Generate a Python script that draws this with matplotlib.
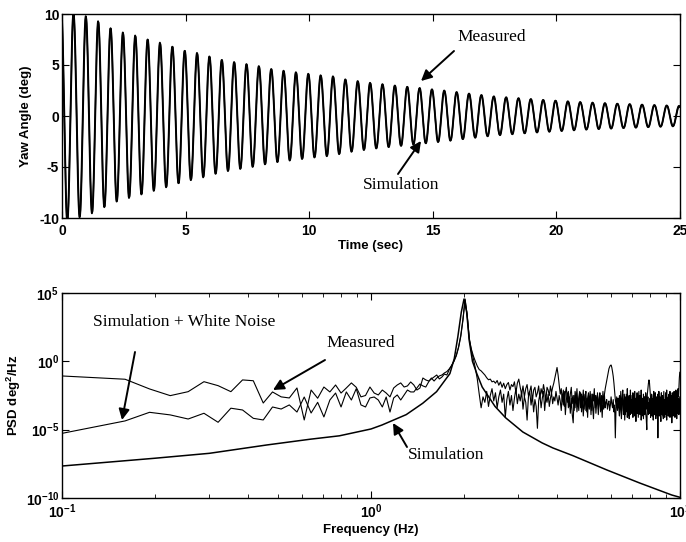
"""Yaw-angle free decay (time domain) and its PSD: measured vs simulation."""

import numpy as np
import matplotlib

matplotlib.use("Agg")
import matplotlib.pyplot as plt

INK = "black"
SERIF = ["Liberation Serif", "DejaVu Serif"]
plt.rcParams["font.family"] = ["Liberation Sans", "DejaVu Sans"]
plt.rcParams["axes.unicode_minus"] = False
plt.rcParams["mathtext.fontset"] = "custom"
plt.rcParams["mathtext.rm"] = "Liberation Sans:bold"
plt.rcParams["mathtext.it"] = "Liberation Sans:bold"
plt.rcParams["mathtext.bf"] = "Liberation Sans:bold"

# ---- top panel: decaying yaw oscillation -----------------------------------
YAW_FREQ_HZ = 2.0        # oscillation frequency
YAW_PEAK_T0 = 0.46       # time of the first positive peak (s)
MEAS_LAG_S = 0.012       # measured trace sits a hair behind the simulation
ENV_T = [0.0, 0.46, 0.96, 1.46, 1.96, 2.46, 2.96, 3.46, 3.96, 4.46, 4.96,
         5.46, 5.96, 6.46, 6.96, 7.46, 7.96, 8.46, 8.96, 9.46, 9.96, 10.46,
         10.96, 11.46, 12.5, 14.5, 15.5, 17.4, 19.3, 21.2, 23.1, 25.0]
ENV_SIM = [10.6, 10.1, 9.8, 9.3, 8.6, 8.2, 7.9, 7.5, 7.2, 6.8, 6.4,
           6.2, 5.85, 5.5, 5.3, 5.1, 4.9, 4.6, 4.45, 4.3, 4.15, 4.0,
           3.9, 3.6, 3.25, 2.7, 2.5, 1.9, 1.6, 1.35, 1.15, 1.0]
ENV_MEAS = [10.5, 10.0, 9.7, 9.2, 8.6, 8.1, 7.8, 7.5, 7.1, 6.8, 6.4,
            6.1, 5.8, 5.5, 5.25, 5.05, 4.85, 4.6, 4.4, 4.25, 4.1, 3.95,
            3.85, 3.55, 3.2, 2.75, 2.45, 1.95, 1.6, 1.3, 1.15, 0.95]
TIME_TICKS = [0, 5, 10, 15, 20, 25]
YAW_TICKS = [-10, -5, 0, 5, 10]

# ---- bottom panel: PSD (log10 of deg^2/Hz) ---------------------------------
DF_HZ = 0.032            # spectral line spacing
FIRST_BIN = 3            # first line drawn (0.096 Hz, just left of the axis)
MEAS_LOG_PSD = [
    -1.05, -1.2, -1.31, -2.02, -2.51, -2.22, -1.49, -1.78, -2.22, -1.36,
    -1.42, -3.05, -2.24, -2.6, -2.68, -1.95, -4.29, -2.1, -2.7, -1.88,
    -2.24, -1.73, -2.32, -1.95, -1.58, -1.9, -2.6, -2.5, -1.88, -2.32,
    -2.46, -2.1, -2.32, -2.6, -1.95, -1.73, -1.58, -1.88, -1.8, -1.51,
    -1.73, -2.1, -1.95, -1.22, -1.36, -1.44, -1.29, -1.15, -1.0, -1.29,
    -1.15, -0.93, -1.0, -0.6, -0.3, 0.0, 0.4, 1.0, 1.8, 3.0,
    4.56, 3.3, 1.6, 0.9, 0.4, 0.0,
    -0.35, -0.6, -0.7, -0.85, -1.0, -1.2, -1.35, -1.3, -1.5, -1.45,
    -1.6, -1.4, -1.75, -1.5, -1.9, -1.6, -2.0, -1.7, -1.55, -2.1,
    -1.7, -1.85, -1.5, -2.3, -1.6, -1.3, -1.9, -2.4, -1.8, -2.6,
    -2.0, -1.7, -2.5, -2.2, -1.8, -2.9, -2.1, -1.9, -2.6, -2.3,
    -1.8, -2.7, -2.0, -2.4, -1.7, -2.2, -2.9, -1.9, -2.1, -2.5,
    -1.8, -2.3, -1.9, -1.6, -1.2, -0.8, -0.45, -1.0, -1.7, -2.4,
    -2.0, -2.9, -2.1, -3.3, -2.3, -1.9, -3.0, -2.2, -3.3, -2.4,
    -1.9, -3.1, -2.5, -3.6, -2.2, -3.0, -2.0, -3.3, -2.6, -2.2,
    -3.4, -2.4, -3.1, -2.1, -3.5, -2.6, -2.2, -3.7, -2.7, -2.3,
    -3.2, -2.2, -3.1, -3.6, -2.4, -2.9, -2.0, -3.4, -2.5, -3.2,
    -2.3, -3.5, -2.7, -2.3, -3.7, -2.5, -3.1, -2.2, -3.2, -2.4,
    -2.0, -1.7, -1.4, -1.1, -0.8, -0.55, -0.4, -0.3, -0.27, -0.45,
    -0.75, -1.1, -1.6, -2.2, -2.8, -3.2, -2.6, -3.0, -2.7, -3.3,
    -2.5, -3.4, -2.2, -3.8, -2.7, -2.1, -3.6, -3.0, -2.4, -3.9,
    -2.6, -3.5, -2.0, -3.1, -4.0, -2.5, -3.3, -2.1, -3.7, -2.8,
    -3.8, -2.3, -3.0, -3.5, -2.2, -3.9, -2.7, -3.2, -2.3, -3.6,
    -2.9, -2.2, -3.8, -2.5, -3.3, -2.1, -3.5, -2.8, -4.0, -2.4,
    -3.3, -2.6, -3.7, -2.3, -2.8, -3.5, -2.4, -2.0, -1.6, -1.36,
    -1.6, -2.1, -2.7, -3.4, -2.4, -3.8, -2.7, -3.4, -2.2, -3.9,
    -2.8, -2.3, -3.6, -2.6, -4.0, -3.0, -2.4, -3.7, -2.2, -3.4,
    -2.6, -3.9, -2.9, -2.3, -3.6, -2.5, -4.0, -3.0, -2.2, -3.5,
    -2.8, -3.8, -2.3, -3.2, -2.1, -3.6, -2.7, -4.0, -2.9, -2.4,
    -3.6, -2.2, -3.2, -3.9, -2.5, -3.5, -2.3, -3.8, -2.7, -3.3,
    -2.2, -3.6, -2.6, -3.1, -2.1, -3.5, -2.5, -2.2, -3.0, -2.0,
    -2.6, -1.8, -1.2, -0.8,
]
SIMNOISE_LOG_PSD = [
    -5.35, -4.79, -4.36, -3.73, -3.92, -4.22, -3.80, -4.46, -3.43, -3.56,
    -4.17, -4.29, -3.34, -3.49, -3.19, -3.71, -2.61, -3.78, -3.0, -4.07,
    -2.83, -2.32, -3.34, -2.24, -2.83, -2.0, -3.19, -3.34, -2.68, -2.61,
    -2.83, -3.34, -2.61, -3.71, -2.68, -2.46, -2.83, -2.46, -2.1, -2.24,
    -2.24, -1.95, -1.66, -1.8, -1.88, -1.51, -1.22, -1.44, -1.22, -1.07,
    -1.0, -0.85, -0.75, -0.55, -0.3, 0.05, 0.45, 1.05, 1.9, 3.1,
    4.5, 3.4, 1.7, 0.8, 0.2, -0.5,
    -1.3, -2.4, -3.4, -2.6, -3.0, -2.2, -3.3, -2.5, -2.0, -2.9,
    -2.3, -3.4, -2.6, -2.1, -3.0, -2.4, -4.1, -2.8, -2.2, -3.2,
    -2.5, -3.6, -2.7, -2.0, -3.1, -2.4, -2.9, -2.2, -3.5, -2.6,
    -3.0, -4.3, -2.6, -2.2, -3.2, -2.5, -3.7, -2.8, -3.3, -4.9,
    -2.9, -2.4, -3.4, -2.7, -2.2, -3.6, -2.6, -3.0, -2.4, -3.3,
    -2.7, -2.3, -3.1, -2.6, -2.9, -2.2, -2.7, -3.2, -2.5, -2.9,
    -3.6, -2.4, -3.2, -2.2, -3.9, -2.8, -2.3, -3.4, -2.6, -3.8,
    -2.7, -3.9, -4.5, -2.5, -3.4, -2.3, -3.7, -2.8, -3.6, -2.4,
    -2.3, -3.7, -2.6, -4.0, -3.0, -2.4, -3.6, -2.7, -4.1, -2.5,
    -3.5, -2.6, -3.9, -2.4, -3.3, -4.2, -2.7, -2.5, -3.8, -3.0,
    -2.6, -3.9, -3.2, -2.4, -3.6, -3.0, -4.1, -2.7, -3.5, -2.5,
    -3.4, -3.0, -2.8, -3.5, -3.1, -2.9, -3.6, -3.2, -2.6, -3.1,
    -3.4, -2.8, -3.7, -3.2, -5.6, -3.4, -2.9, -3.6, -3.0, -3.4,
    -4.0, -2.6, -3.5, -4.2, -2.9, -2.4, -3.9, -3.1, -4.3, -2.7,
    -3.7, -2.4, -4.1, -3.0, -2.6, -4.2, -3.1, -3.9, -2.5, -3.8,
    -2.8, -4.1, -3.2, -2.5, -4.0, -3.0, -4.4, -2.7, -3.8, -3.0,
    -4.1, -3.1, -2.5, -3.9, -2.8, -4.3, -3.3, -2.7, -3.5, -4.2,
    -3.0, -3.9, -2.6, -3.8, -4.2, -5.0, -3.1, -2.6, -3.9, -3.0,
    -3.8, -2.7, -4.1, -3.1, -2.5, -4.0, -3.0, -4.3, -3.2, -2.8,
    -3.9, -2.9, -4.2, -2.7, -3.8, -3.1, -5.6, -3.3, -2.7, -4.0,
    -3.0, -3.8, -4.4, -2.8, -3.9, -2.7, -3.6, -4.2, -2.9, -3.8,
    -4.1, -2.8, -3.9, -3.1, -4.3, -2.9, -3.7, -2.6, -4.0, -3.2,
    -2.8, -4.1, -3.0, -3.9, -2.7, -4.5, -3.2, -2.8, -4.0, -3.0,
    -3.8, -2.7, -4.1, -2.9, -3.9, -3.0, -4.2, -2.8, -3.8, -2.9,
    -2.7, -3.9, -3.1, -2.6,
]
SIM_FREQ = [0.1, 0.2, 0.3, 0.46, 0.635, 0.79, 1.0, 1.085, 1.3, 1.47, 1.63,
            1.8, 1.86, 1.91, 1.96, 2.0, 2.04, 2.08, 2.13, 2.2, 2.29, 2.52,
            2.73, 3.1, 3.58, 3.88, 4.5, 5.8, 7.4, 9.4, 10.0]
SIM_LOG_PSD = [-7.66, -7.09, -6.73, -6.12, -5.70, -5.45, -4.95, -4.66, -3.9,
               -3.07, -2.22, -0.9, 0.2, 1.8, 3.6, 4.56, 3.6, 1.5, 0.0, -0.9,
               -1.88, -3.3, -4.14, -5.17, -5.97, -6.34, -6.9, -7.95, -8.9,
               -9.78, -9.95]
PSD_TICKS = [1e-10, 1e-5, 1e0, 1e5]
PSD_TICK_LABELS = [r"$\mathbf{10^{-10}}$", r"$\mathbf{10^{-5}}$",
                   r"$\mathbf{10^{0}}$", r"$\mathbf{10^{5}}$"]
FREQ_TICKS = [0.1, 1, 10]
FREQ_TICK_LABELS = [r"$\mathbf{10^{-1}}$", r"$\mathbf{10^{0}}$",
                    r"$\mathbf{10^{1}}$"]

W_PX, H_PX = 686, 542


def px(x, y):
    """Top-left pixel coordinates -> matplotlib 'figure pixels'."""
    return (x, H_PX - y)


def note(fig, text, xy_text, tip=None, tail=None, ha="left"):
    """Serif caption, optionally with a filled-head arrow from tail to tip."""
    fig.text(*[v / s for v, s in zip(px(*xy_text), (W_PX, H_PX))], text,
             fontsize=12.5, family=SERIF, color=INK, ha=ha, va="center")
    if tip is not None:
        fig.add_artist(matplotlib.patches.FancyArrowPatch(
            px(*tail), px(*tip), transform=None, arrowstyle="-|>",
            mutation_scale=16, linewidth=1.4, color=INK, shrinkA=0, shrinkB=0))


def style_axes(ax):
    for sp in ax.spines.values():
        sp.set_linewidth(1.0)
        sp.set_color(INK)
    ax.tick_params(which="both", direction="in", top=True, right=True,
                   colors=INK, labelsize=10)
    ax.tick_params(which="major", length=5, width=0.8)
    ax.tick_params(which="minor", length=3, width=0.6)
    for lab in ax.get_xticklabels() + ax.get_yticklabels():
        lab.set_fontweight("bold")


fig = plt.figure(figsize=(W_PX / 100, H_PX / 100), dpi=100)
fig.patch.set_facecolor("white")

# top: time history
ax1 = fig.add_axes([62 / W_PX, 1 - 218 / H_PX, 618 / W_PX, 204 / H_PX])
t = np.linspace(0, 25, 8001)
sim = np.interp(t, ENV_T, ENV_SIM) * np.cos(
    2 * np.pi * YAW_FREQ_HZ * (t - YAW_PEAK_T0))
meas = np.interp(t, ENV_T, ENV_MEAS) * np.cos(
    2 * np.pi * YAW_FREQ_HZ * (t - YAW_PEAK_T0 - MEAS_LAG_S))
ax1.plot(t, meas, color=INK, linewidth=1.2)
ax1.plot(t, sim, color=INK, linewidth=1.2)
ax1.set_xlim(0, 25)
ax1.set_ylim(-10, 10)
ax1.set_xticks(TIME_TICKS)
ax1.set_yticks(YAW_TICKS)
style_axes(ax1)
ax1.tick_params(axis="x", pad=4)
ax1.tick_params(axis="y", pad=2)
ax1.set_xlabel("Time (sec)", fontsize=9.5, fontweight="bold", labelpad=2)
ax1.set_ylabel("Yaw Angle (deg)", fontsize=9.5, fontweight="bold")
ax1.yaxis.set_label_coords(-0.049, 0.5)

# bottom: power spectral density
ax2 = fig.add_axes([62 / W_PX, 1 - 498 / H_PX, 618 / W_PX, 205 / H_PX])
meas_f = DF_HZ * np.arange(FIRST_BIN, FIRST_BIN + len(MEAS_LOG_PSD))
noise_f = DF_HZ * np.arange(FIRST_BIN, FIRST_BIN + len(SIMNOISE_LOG_PSD))
ax2.plot(meas_f, 10.0 ** np.asarray(MEAS_LOG_PSD), color=INK, linewidth=0.8)
ax2.plot(noise_f, 10.0 ** np.asarray(SIMNOISE_LOG_PSD), color=INK,
         linewidth=0.8)
ax2.plot(SIM_FREQ, 10.0 ** np.asarray(SIM_LOG_PSD), color=INK, linewidth=1.1)
ax2.set_xscale("log")
ax2.set_yscale("log")
ax2.set_xlim(0.1, 10)
ax2.set_ylim(1e-10, 1e5)
ax2.set_xticks(FREQ_TICKS, FREQ_TICK_LABELS)
ax2.set_yticks(PSD_TICKS, PSD_TICK_LABELS)
ax2.yaxis.set_minor_locator(matplotlib.ticker.NullLocator())
style_axes(ax2)
ax2.tick_params(axis="y", pad=2)
ax2.set_xlabel("Frequency (Hz)", fontsize=9.5, fontweight="bold", labelpad=2)
ax2.set_ylabel(r"PSD deg$^{2}$/Hz", fontsize=9.5, fontweight="bold")
ax2.yaxis.set_label_coords(-0.063, 0.5)

# callouts
note(fig, "Measured", (457, 37), tip=(421, 81), tail=(454, 51))
note(fig, "Simulation", (363, 185), tip=(421, 141), tail=(398, 174))
note(fig, "Simulation + White Noise", (93, 322), tip=(122, 420),
     tail=(135, 352))
note(fig, "Measured", (326, 343), tip=(273, 390), tail=(325, 360))
note(fig, "Simulation", (408, 455), tip=(393, 423), tail=(407, 447))

fig.savefig("out.png", dpi=100, facecolor="white")
